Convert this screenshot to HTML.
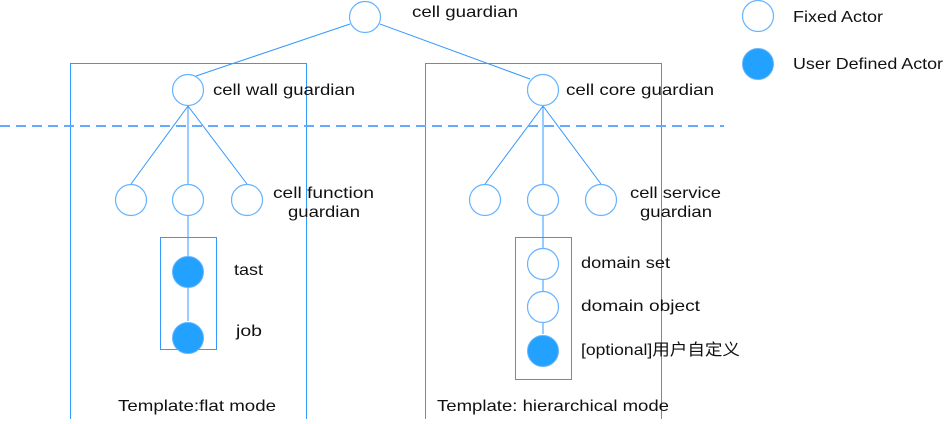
<!DOCTYPE html><html><head><style>body{margin:0;background:#fff}svg text{font-family:"Liberation Sans","Noto Sans CJK SC",sans-serif;font-size:16px;fill:#111}</style></head><body>
<svg width="944" height="419" xmlns="http://www.w3.org/2000/svg">
<g stroke="#3399ff" fill="none" stroke-width="1">
<rect x="70.5" y="63.5" width="236" height="356"/>
<rect x="425.5" y="63.5" width="236" height="356"/>
<rect x="160.5" y="237.5" width="56" height="112"/>
<rect x="515.5" y="237.5" width="56" height="142"/>
<line x1="350" y1="24" x2="196" y2="76"/>
<line x1="380" y1="24" x2="530" y2="79"/>
<line x1="188" y1="106" x2="131" y2="184"/><line x1="188" y1="106" x2="188" y2="184"/><line x1="188" y1="106" x2="247" y2="184"/>
<line x1="543" y1="106" x2="485" y2="184"/><line x1="543" y1="106" x2="543" y2="184"/><line x1="543" y1="106" x2="601" y2="184"/>
<line x1="188" y1="216" x2="188" y2="321"/>
<line x1="543" y1="216" x2="543" y2="334"/>
<line x1="0" y1="126" x2="724" y2="126" stroke="#66aaff" stroke-width="2" stroke-dasharray="10,6"/>
</g>
<g stroke="#66b3ff" fill="#fff" stroke-width="1.2">
<circle cx="365" cy="17" r="15.5"/><circle cx="188" cy="90" r="15.5"/><circle cx="543" cy="90" r="15.5"/>
<circle cx="131" cy="200" r="15.5"/><circle cx="188" cy="200" r="15.5"/><circle cx="247" cy="200" r="15.5"/>
<circle cx="485" cy="200" r="15.5"/><circle cx="543" cy="200" r="15.5"/><circle cx="601" cy="200" r="15.5"/>
<circle cx="543" cy="264" r="15.5"/><circle cx="543" cy="307" r="15.5"/>
<circle cx="758" cy="16" r="15.5"/>
</g>
<g fill="#22a1ff" stroke="#66b3ff">
<circle cx="188" cy="272" r="15.5"/><circle cx="188" cy="338" r="15.5"/><circle cx="543" cy="351" r="15.5"/><circle cx="758" cy="64" r="15.5"/>
</g>
<g>
<text x="412" y="17" textLength="106" lengthAdjust="spacingAndGlyphs">cell guardian</text>
<text x="213" y="95" textLength="142" lengthAdjust="spacingAndGlyphs">cell wall guardian</text>
<text x="566" y="95" textLength="148" lengthAdjust="spacingAndGlyphs">cell core guardian</text>
<text x="273" y="198" textLength="101" lengthAdjust="spacingAndGlyphs">cell function</text><text x="288" y="217" textLength="72" lengthAdjust="spacingAndGlyphs">guardian</text>
<text x="630" y="198" textLength="91" lengthAdjust="spacingAndGlyphs">cell service</text><text x="640" y="217" textLength="72" lengthAdjust="spacingAndGlyphs">guardian</text>
<text x="234" y="275" textLength="29" lengthAdjust="spacingAndGlyphs">tast</text><text x="236" y="336" textLength="26" lengthAdjust="spacingAndGlyphs">job</text>
<text x="581" y="268" textLength="89" lengthAdjust="spacingAndGlyphs">domain set</text><text x="581" y="311" textLength="119" lengthAdjust="spacingAndGlyphs">domain object</text>
<text x="581" y="355" textLength="159" lengthAdjust="spacingAndGlyphs">[optional]用户自定义</text>
<text x="118" y="411" textLength="158" lengthAdjust="spacingAndGlyphs">Template:flat mode</text>
<text x="437" y="411" textLength="232" lengthAdjust="spacingAndGlyphs">Template: hierarchical mode</text>
<text x="793" y="22" textLength="90" lengthAdjust="spacingAndGlyphs">Fixed Actor</text><text x="793" y="69" textLength="150" lengthAdjust="spacingAndGlyphs">User Defined Actor</text>
</g>
</svg></body></html>
